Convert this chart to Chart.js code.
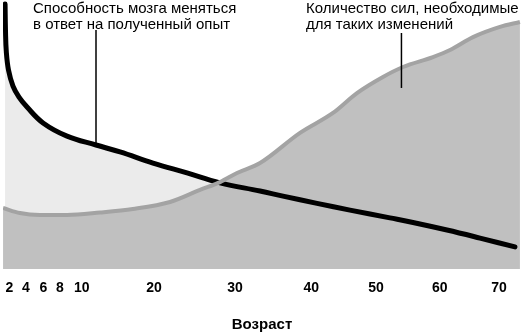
<!DOCTYPE html>
<html>
<head>
<meta charset="utf-8">
<script src="https://cdn.jsdelivr.net/npm/chart.js@4/dist/chart.umd.min.js"></script>
<style>
  html, body { margin: 0; padding: 0; background: #fff; }
  #wrap { width: 526px; height: 333px; }
</style>
</head>
<body>
<div id="wrap"><canvas id="mycanvas" width="526" height="333"></canvas></div>
<script>
// x axis: the age labels and where each one sits along the axis (0..100 of its width)
var tickAges = [2, 4, 6, 8, 10, 20, 30, 40, 50, 60, 70];
var tickPos = [1.22, 4.44, 7.78, 11.0, 15.19, 29.15, 44.79, 59.52, 72.0, 84.3, 95.75];

// how easily the brain changes with experience
var plasticAges = [1.49, 1.54, 1.64, 1.9, 2.44, 3.16, 4.12, 5.97, 8.65, 11.98, 15.3, 19.86, 24.07, 28.15, 33.28, 36.29, 40.88, 45.98, 52.2, 55.81, 61.23, 66.8, 72.69];
var plasticVals = [98.5, 88.8, 80.7, 74.0, 68.0, 63.9, 60.2, 54.3, 49.4, 46.1, 43.5, 39.4, 35.7, 32.0, 29.0, 27.1, 24.4, 21.9, 19.0, 17.3, 14.5, 11.5, 8.2];

// effort needed for such changes
var effortAges = [1.25, 3.28, 5.62, 8.65, 12.53, 17.09, 21.98, 25.68, 28.15, 30.26, 33.28, 38.52, 43.35, 47.06, 51.1, 54.24, 58.95, 61.74, 65.62, 70.17, 73.53];
var effortVals = [22.7, 20.8, 20.1, 20.1, 21.0, 22.3, 24.9, 29.4, 32.3, 35.7, 39.4, 50.6, 58.0, 65.4, 71.4, 75.1, 78.8, 81.4, 86.2, 90.0, 91.8];

var plasticLabel = ['Способность мозга меняться', 'в ответ на полученный опыт'];
var effortLabel = ['Количество сил, необходимые', 'для таких изменений'];
var axisTitle = 'Возраст';

// the age axis is not uniform, so map an age onto its place along the axis
function agePos(age) {
  var n = tickAges.length;
  var i = 0;
  if (age <= tickAges[0]) i = 0;
  else if (age >= tickAges[n - 1]) i = n - 2;
  else { while (age > tickAges[i + 1]) i++; }
  var t = (age - tickAges[i]) / (tickAges[i + 1] - tickAges[i]);
  return tickPos[i] + t * (tickPos[i + 1] - tickPos[i]);
}

function toPoints(ages, vals) {
  var pts = [];
  for (var i = 0; i < ages.length; i++) {
    pts.push({ x: agePos(ages[i]), y: vals[i] });
  }
  return pts;
}

var FONT = '"Liberation Sans", Arial, Helvetica, sans-serif';

// captions with their leader lines
var notesPlugin = {
  id: 'notes',
  afterDraw: function (chart) {
    var ctx = chart.ctx;
    var xs = chart.scales.x, ys = chart.scales.y;
    var notes = [
      { lines: plasticLabel, left: 33, top: 30, at: { age: plasticAges[9], val: plasticVals[9] } },
      { lines: effortLabel, left: 306, top: 33, at: { age: 54.0, val: 67.3 } }
    ];
    ctx.save();
    ctx.fillStyle = '#000';
    ctx.font = '15px ' + FONT;
    ctx.textBaseline = 'alphabetic';
    notes.forEach(function (n) {
      ctx.fillText(n.lines[0], n.left, 13);
      ctx.fillText(n.lines[1], n.left, 28.5);
      var px = xs.getPixelForValue(agePos(n.at.age));
      var py = ys.getPixelForValue(n.at.val);
      ctx.beginPath();
      ctx.lineWidth = 1.5;
      ctx.strokeStyle = '#000';
      ctx.moveTo(px, n.top);
      ctx.lineTo(px, py);
      ctx.stroke();
    });
    ctx.restore();
  }
};

var ctx = document.getElementById('mycanvas');
var chart = new Chart(ctx, {
  type: 'line',
  data: {
    datasets: [{
      // first dataset is drawn on top, so the grey line passes over the black one
      label: 'effort',
      data: toPoints(effortAges, effortVals),
      borderColor: '#a3a3a3',
      backgroundColor: '#c0c0c0',
      borderWidth: 4,
      fill: 'origin',
      pointRadius: 0,
      cubicInterpolationMode: 'monotone'
    }, {
      label: 'plasticity',
      data: toPoints(plasticAges, plasticVals),
      borderColor: '#000',
      backgroundColor: '#ebebeb',
      borderWidth: 5,
      borderCapStyle: 'round',
      fill: 'origin',
      pointRadius: 0,
      tension: 0.4
    }]
  },
  options: {
    responsive: false,
    animation: false,
    layout: { padding: { left: 3, right: 5, top: 0, bottom: 0 } },
    plugins: {
      legend: { display: false },
      tooltip: { enabled: false },
      filler: { drawTime: 'beforeDatasetsDraw' }
    },
    scales: {
      x: {
        type: 'linear',
        min: 0,
        max: 100,
        grid: { display: false, drawTicks: false },
        border: { display: false },
        afterBuildTicks: function (scale) {
          scale.ticks = tickPos.map(function (p) { return { value: p }; });
        },
        afterFit: function (scale) {
          scale.height = 64;
          scale.paddingLeft = 0;
          scale.paddingRight = 0;
        },
        ticks: {
          autoSkip: false,
          maxRotation: 0,
          padding: 11,
          color: '#000',
          font: { family: FONT, size: 14, weight: 'bold' },
          callback: function (value, index) { return String(tickAges[index]); }
        },
        title: {
          display: true,
          text: axisTitle,
          color: '#000',
          font: { family: FONT, size: 15, weight: 'bold' },
          padding: { top: 17, bottom: -1 }
        }
      },
      y: {
        display: false,
        min: 0,
        max: 100
      }
    }
  },
  plugins: [notesPlugin]
});
</script>
</body>
</html>
